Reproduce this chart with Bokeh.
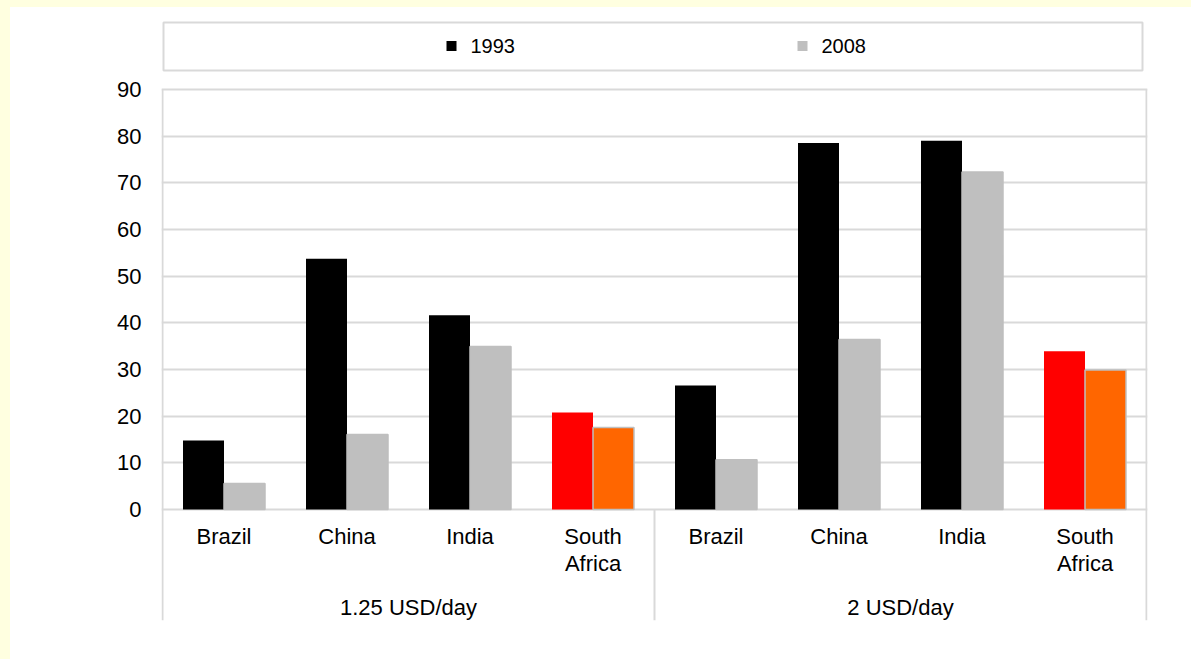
from bokeh.plotting import figure
from bokeh.models import Range1d, FixedTicker, GlobalInlineStyleSheet
from bokeh.core.properties import value
from bokeh.embed import file_html
from bokeh.resources import INLINE

# ---------------- data ----------------
groups = ["1.25 USD/day", "2 USD/day"]
countries = ["Brazil", "China", "India", "South Africa"]
country_labels = ["Brazil", "China", "India", "South\nAfrica"]
years = ["1993", "2008"]
v1993_125 = [14.8, 53.7, 41.6, 20.8]
v2008_125 = [5.6, 16.1, 34.9, 17.6]
v1993_2 = [26.6, 78.5, 79.0, 33.9]
v2008_2 = [10.7, 36.4, 72.3, 29.9]
yticks = [0, 10, 20, 30, 40, 50, 60, 70, 80, 90]
highlight = "South Africa"

# ---------------- styles ----------------
FONT = "Liberation Sans"
GRID = "#D9D9D9"
C1993, C2008 = "#000000", "#BFBFBF"
H1993, H2008 = "#FF0000", "#FF6600"

# page pixel -> data helpers (layout only)
PX_Y = 420.3 / 90.0
Y0 = 509.1
PX_X = 123.0
X0 = 162.0
def yd(py):
    return (Y0 - py) / PX_Y
def xd(px):
    return (px - X0) / PX_X

W, H = 1181, 652
p = figure(width=W, height=H, output_backend="svg", toolbar_location=None,
           x_range=Range1d(xd(161), xd(1147)), y_range=Range1d(yd(620), yd(8)),
           x_axis_location=None,
           min_border_left=151, min_border_right=44, min_border_top=1, min_border_bottom=39)
p.outline_line_color = None
p.background_fill_color = "white"
p.border_fill_color = "white"
p.stylesheets = [GlobalInlineStyleSheet(css=(
    "html { background: linear-gradient(to bottom, #FFFFE0 7px, rgba(0,0,0,0) 7px), "
    "linear-gradient(to right, #FFFFE0 10px, #FFFFFF 10px); overflow: hidden; } "
    "body { background: transparent; margin: 7px 0 0 10px; overflow: hidden; }"))]

p.xgrid.visible = False
p.ygrid.ticker = FixedTicker(ticks=yticks)
p.ygrid.grid_line_color = GRID
p.ygrid.grid_line_width = 2

ax = p.yaxis[0]
ax.ticker = FixedTicker(ticks=yticks)
ax.axis_line_color = None
ax.major_tick_line_color = None
ax.minor_tick_line_color = None
ax.major_tick_out = 0
ax.major_tick_in = 0
ax.major_label_standoff = 20
ax.major_label_text_font = FONT
ax.major_label_text_font_size = "22px"
ax.major_label_text_color = "#000000"

# ---------------- bars ----------------
bw = 1.0 / 3.0
series = [(v1993_125, v2008_125), (v1993_2, v2008_2)]
x93, t93, c93, x08, t08, c08 = [], [], [], [], [], []
for gi, (a, b) in enumerate(series):
    for ci, c in enumerate(countries):
        center = gi * len(countries) + ci + 0.5
        x93.append(center - bw / 2)
        t93.append(a[ci])
        c93.append(H1993 if c == highlight else C1993)
        x08.append(center + bw / 2)
        t08.append(b[ci])
        c08.append(H2008 if c == highlight else C2008)

p.vbar(x=x93, top=t93, bottom=0, width=bw, fill_color=c93, line_color=None)
p.vbar(x=x08, top=t08, bottom=0, width=bw, fill_color=c08, line_color=C2008, line_width=1.5)

# ---------------- category axis lines ----------------
ncat = len(groups) * len(countries)
ybot = yd(620)
p.segment(x0=[0, ncat, len(countries)], y0=[90, 90, 0],
          x1=[0, ncat, len(countries)], y1=[ybot, ybot, ybot],
          line_color=GRID, line_width=2)

# category labels
cx = [gi * len(countries) + ci + 0.5 for gi in range(len(groups)) for ci in range(len(countries))]
cl = [lab for _ in groups for lab in country_labels]
p.text(x=cx, y=[yd(523)] * len(cx), text=cl, text_align="center", text_baseline="top",
       text_font=value(FONT), text_font_size="22px", text_color="#000000", text_line_height=1.08)
gx = [gi * len(countries) + len(countries) / 2 for gi in range(len(groups))]
p.text(x=gx, y=[yd(594)] * len(gx), text=groups, text_align="center", text_baseline="top",
       text_font=value(FONT), text_font_size="22px", text_color="#000000")

# ---------------- legend ----------------
p.quad(left=[xd(163)], right=[xd(1142)], top=[yd(22)], bottom=[yd(70)],
       fill_color="white", line_color=GRID, line_width=2)
lx = [xd(451), xd(802)]
ly = [yd(45.5)] * 2
p.rect(x=lx, y=ly, width=10, height=10, width_units="screen", height_units="screen",
       fill_color=[C1993, C2008], line_color=None)
p.text(x=[xd(470), xd(821)], y=ly, text=years, text_align="left", text_baseline="middle",
       text_font=value(FONT), text_font_size="20px", text_color="#000000")

open("out.html", "w").write(file_html(p, INLINE))
